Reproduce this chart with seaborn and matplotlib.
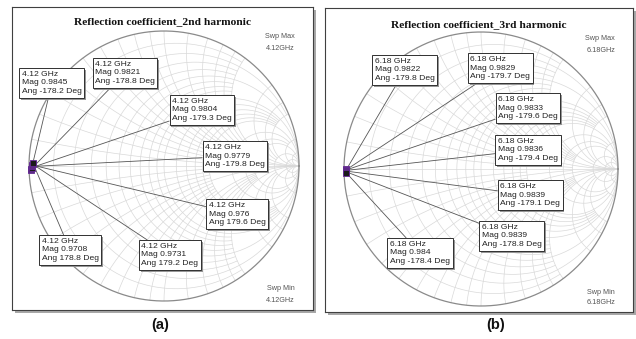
import numpy as np
import matplotlib
matplotlib.use("Agg")
import matplotlib.pyplot as plt
import matplotlib.patheffects as pe
from matplotlib.patches import Rectangle
import pandas as pd
import seaborn as sns

# ---- marker readouts ----
freq_a = "4.12 GHz"
mag_a = [0.9845, 0.9821, 0.9804, 0.9779, 0.976, 0.9731, 0.9708]
ang_a = [-178.2, -178.8, -179.3, -179.8, 179.6, 179.2, 178.8]

freq_b = "6.18 GHz"
mag_b = [0.9822, 0.9829, 0.9833, 0.9836, 0.9839, 0.9839, 0.984]
ang_b = [-179.8, -179.7, -179.6, -179.4, -179.1, -178.8, -178.4]

titles = ["Reflection coefficient_2nd harmonic", "Reflection coefficient_3rd harmonic"]
sweep_freq = ["4.12GHz", "6.18GHz"]
panel_tags = ["(a)", "(b)"]

# ---- layout (pixels on a 636x339 canvas) ----
W, H = 636, 339
frames = [(12, 7, 313, 310), (325, 8, 633, 312)]      # left, top, right, bottom
centers = [(164, 166, 135), (481, 169, 137)]            # cx, cy, radius
title_y = [22, 25]
tag_xy = [(160, 325), (496, 325)]

# label box centres in chart (reflection-plane) coordinates
label_pos_a = [(-0.83, 0.615), (-0.289, 0.689), (0.281, 0.415), (0.526, 0.074),
               (0.541, -0.356), (0.044, -0.659), (-0.696, -0.622)]
label_pos_b = [(-0.555, 0.723), (0.139, 0.737), (0.343, 0.445), (0.343, 0.139),
               (0.358, -0.190), (0.226, -0.489), (-0.445, -0.613)]

sns.set_style("white")
plt.rcParams["font.family"] = ["Liberation Sans", "DejaVu Sans"]

GRID_C = "#d9d9d9"

def smith_grid(ax):
    big = 1e4
    r_spec = {0.1: 2, 0.2: 5, 0.3: 2, 0.4: 2, 0.5: big, 0.6: 2, 0.7: 2, 0.8: 2,
              0.9: 2, 1.0: big, 1.2: 5, 1.4: 5, 1.6: 5, 1.8: 5, 2.0: big,
              3.0: 10, 4.0: 10, 5.0: big, 10.0: big, 20.0: big}
    for r, xmax in r_spec.items():
        x = np.tan(np.linspace(-np.arctan(xmax), np.arctan(xmax), 400))
        g = ((r + 1j * x) - 1) / ((r + 1j * x) + 1)
        ax.plot(g.real, g.imag, color=GRID_C, lw=0.5, zorder=1)
    for xv, rmax in r_spec.items():
        r = np.tan(np.linspace(0, np.arctan(rmax), 400))
        for s in (1, -1):
            z = r + 1j * s * xv
            g = (z - 1) / (z + 1)
            ax.plot(g.real, g.imag, color=GRID_C, lw=0.5, zorder=1)
    ax.plot([-1, 1], [0, 0], color=GRID_C, lw=0.5, zorder=1)
    t = np.linspace(0, 2 * np.pi, 600)
    ax.plot(np.cos(t), np.sin(t), color="#8a8a8a", lw=0.9, zorder=2)


fig = plt.figure(figsize=(W / 100, H / 100), dpi=100)
fig.patch.set_facecolor("white")

datasets = [(freq_a, mag_a, ang_a, label_pos_a), (freq_b, mag_b, ang_b, label_pos_b)]

for i, (freq, mags, angs, lpos) in enumerate(datasets):
    l, t, r, b = frames[i]
    cx, cy, rad = centers[i]
    # drop shadow behind the frame
    fig.add_artist(Rectangle(((l + 3) / W, 1 - (b + 3) / H), (r - l) / W, (b - t) / H,
                             transform=fig.transFigure, facecolor="#a8a8a8",
                             edgecolor="none", zorder=-5))
    ax = fig.add_axes([l / W, 1 - b / H, (r - l) / W, (b - t) / H])
    ax.set_facecolor("white")
    ax.set_xlim((l - cx) / rad, (r - cx) / rad)
    ax.set_ylim((cy - b) / rad, (cy - t) / rad)
    ax.set_xticks([]); ax.set_yticks([])
    for sp in ax.spines.values():
        sp.set_color("#404040"); sp.set_linewidth(0.8); sp.set_visible(True)

    smith_grid(ax)

    a = np.deg2rad(angs)
    df = pd.DataFrame({"re": np.array(mags) * np.cos(a), "im": np.array(mags) * np.sin(a)})

    for k in range(len(mags)):
        txt = f"{freq}\nMag {mags[k]:g}\nAng {angs[k]:g} Deg"
        an = ax.annotate(txt, xy=(df.re[k], df.im[k]), xytext=lpos[k], textcoords="data",
                         ha="center", va="center", ma="left", fontsize=6.1, color="#222222",
                         linespacing=1.35,
                         bbox=dict(boxstyle="square,pad=0.3", fc="white", ec="#303030", lw=0.7),
                         arrowprops=dict(arrowstyle="-", color="#555555", lw=0.6,
                                         shrinkA=0, shrinkB=0),
                         zorder=5)
        an.get_bbox_patch().set_path_effects(
            [pe.SimplePatchShadow(offset=(1.4, -1.4), shadow_rgbFace="0.55", alpha=0.9), pe.Normal()])

    sns.scatterplot(data=df, x="re", y="im", ax=ax, marker="s", s=14, color="#1a1a1a",
                    edgecolor="#6a2c9c", linewidth=0.6, zorder=6, legend=False)
    ax.set_xlabel(""); ax.set_ylabel("")

    def yfrac(py):
        return (b - py) / (b - t)

    ax.text(0.5, yfrac(title_y[i]), titles[i], transform=ax.transAxes, ha="center", va="center",
            fontsize=8.2, fontweight="bold", family="Liberation Serif", color="#111111")
    xr = (r - 18 - l) / (r - l)
    for py, s in [(36 + 2 * i, "Swp Max"), (48 + 2 * i, sweep_freq[i]),
                  (288 + 4 * i, "Swp Min"), (300 + 3 * i, sweep_freq[i])]:
        ax.text(xr, yfrac(py), s, transform=ax.transAxes, ha="right", va="center",
                fontsize=5.2, color="#555555")

    fig.text(tag_xy[i][0] / W, 1 - tag_xy[i][1] / H, panel_tags[i], ha="center", va="center",
             fontsize=10.5, fontweight="bold", color="#111111")

fig.savefig("out.png", dpi=100, facecolor="white")
